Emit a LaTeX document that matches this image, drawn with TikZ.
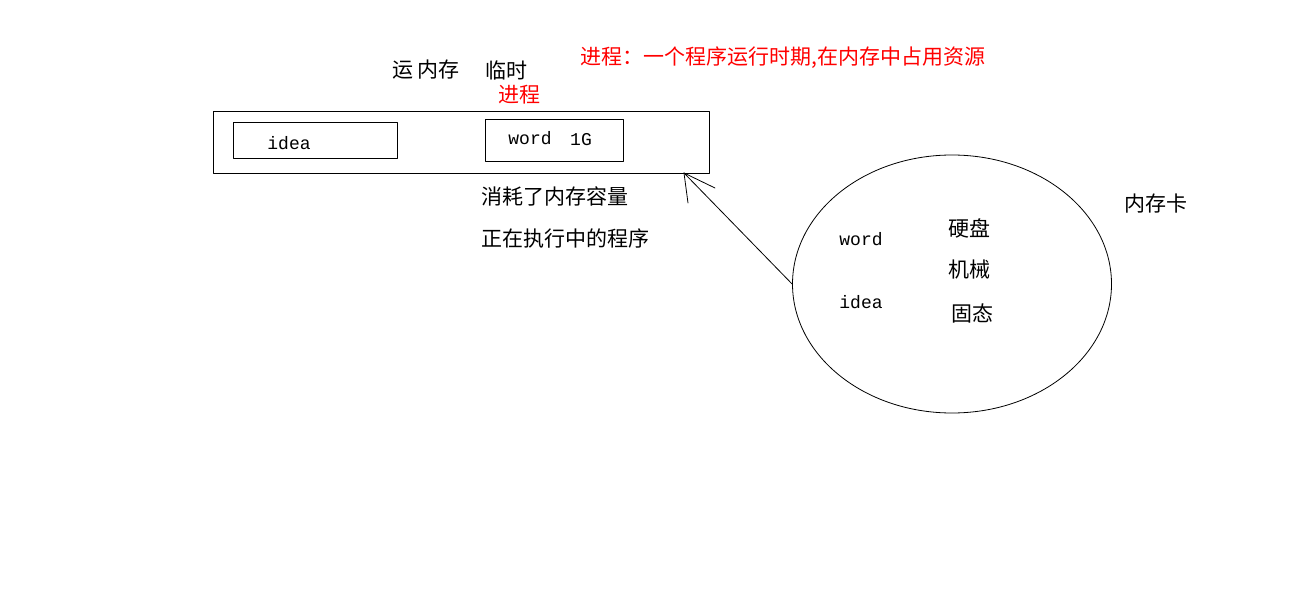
\documentclass[tikz,border=0pt]{standalone}
\usepackage{fontspec}
\setmainfont{Noto Sans CJK SC}
\setmonofont{Liberation Mono}
\usetikzlibrary{shapes.geometric}
\begin{document}
\begin{tikzpicture}[x=1pt, y=-1pt, line cap=round, line join=round,
    box/.style={draw, line width=1pt, inner sep=0pt, anchor=north west},
    zh/.style={font=\fontsize{21}{25}\selectfont, inner sep=0pt},
    note/.style={zh, text=red},
    en/.style={font=\ttfamily\fontsize{18}{20}\selectfont, inner sep=0pt}]
	% Page size of the sketch
	\useasboundingbox (0,0) rectangle (1300,601);
	
	% Memory strip with the two programs
	\node[box, minimum width=496pt, minimum height=62pt] (mem) at (213,111) {};
	\node[box, minimum width=164pt, minimum height=36pt] (ideabox) at (233,122) {};
	\node[box, minimum width=138pt, minimum height=42pt] (wordbox) at (485,119) {};
	\node[en] (idea) at (289,143) {idea};
	\node[en] (word) at (530,138) {word};
	\node[en] (size) at (581,140) {1G};
	
	% Labels above the strip
	\node[zh] (ram) at (426,70) {运 内存};
	\node[zh] (temp) at (506,70) {临时};
	\node[note] (proc) at (519,95) {进程};
	\node[note] (def) at (783,58) {进程：一个程序运行时期,在内存中占用资源};
	
	% Notes below the strip
	\node[zh] (use) at (555,196) {消耗了内存容量};
	\node[zh] (run) at (565,239) {正在执行中的程序};
	
	% Disk
	\node[draw, ellipse, line width=0.8pt, minimum width=319pt, minimum height=258pt] (disk) at (952,284) {};
	\node[en] (dword) at (861,239) {word};
	\node[en] (didea) at (861,302) {idea};
	\node[zh] (hdd) at (969,228) {硬盘};
	\node[zh] (mech) at (969,270) {机械};
	\node[zh] (ssd) at (972,313) {固态};
	\node[zh] (card) at (1156,204) {内存卡};
	
	% Loading arrow, disk to memory
	\coordinate (tip) at (684,173);
	\coordinate (barbA) at (715,188);
	\coordinate (barbB) at (688,203);
	\draw[line width=0.8pt] (disk.west) -- (tip);
	\draw[line width=0.8pt] (barbA) -- (tip) -- (barbB);
\end{tikzpicture}
\end{document}
